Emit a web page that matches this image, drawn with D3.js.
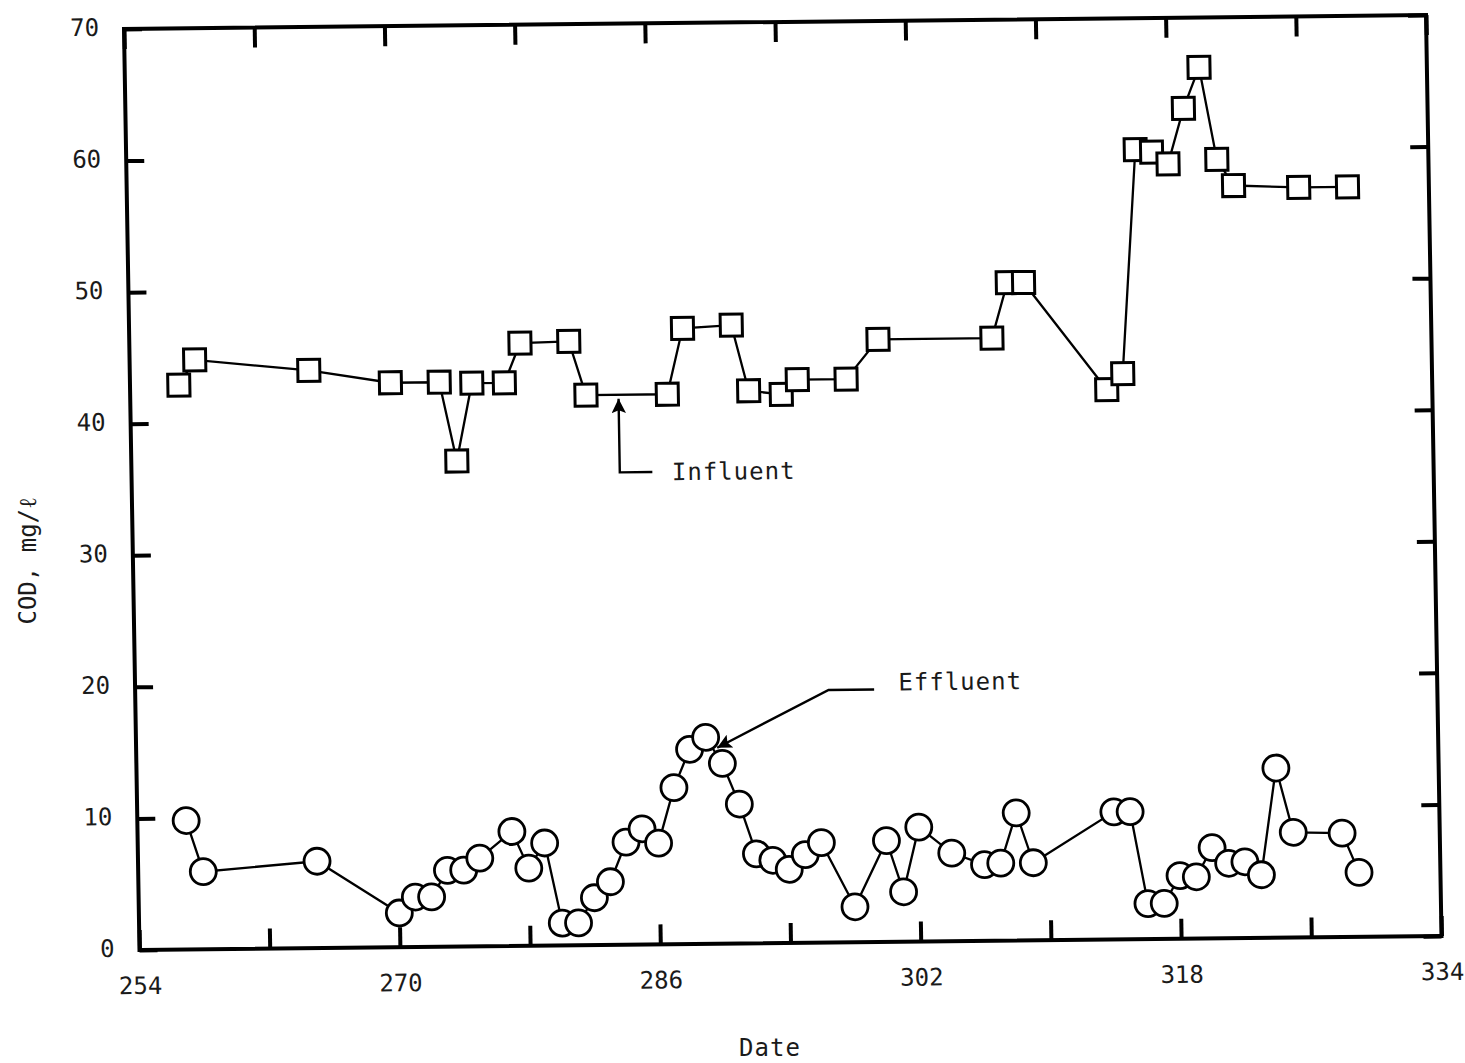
<!DOCTYPE html>
<html>
<head>
<meta charset="utf-8">
<script src="https://cdn.jsdelivr.net/npm/d3@7"></script>
<style>
  body { margin: 0; background: #fff; }
  svg text { font-family: "DejaVu Sans Mono", monospace; fill: #1a1a1a; }
  .frame { fill: none; stroke: #000; stroke-width: 4; }
  .axis line { stroke: #000; stroke-width: 4; }
  .axis text { font-size: 24px; }
  .series-line { fill: none; stroke: #000; stroke-width: 2.3; }
  .sq { fill: #fff; stroke: #000; stroke-width: 3; }
  .dot { fill: #fff; stroke: #000; stroke-width: 2.8; }
  .note-line { fill: none; stroke: #000; stroke-width: 2.4; }
  .note { font-size: 24px; letter-spacing: 1px; }
</style>
</head>
<body>
<svg id="chart"></svg>
<script>
// day of year and COD (mg/l)
const influentDays = [257, 258, 265, 270, 273, 274, 275, 277, 278, 281, 282, 287, 288, 291, 292, 294, 295,
    298, 300, 307, 308, 309, 314, 315, 316, 317, 318, 319, 320, 321, 322, 326, 329];
const influentCOD = [42.9, 44.8, 43.9, 42.9, 42.9, 36.9, 42.8, 42.8, 45.8, 45.9, 41.8, 41.8, 46.8, 47.0, 42.0, 41.7, 42.8,
    42.8, 45.8, 45.8, 50.0, 50.0, 41.8, 43.0, 60.0, 59.8, 58.9, 63.1, 66.2, 59.2, 57.2, 57.0, 57.0];

const effluentDays = [257, 258, 265, 270, 271, 272, 273, 274, 275, 277, 278, 279, 280, 281, 282, 283, 284, 285,
    286, 287, 288, 289, 290, 291, 292, 293, 294, 295, 296, 298, 300, 301, 302, 304, 306, 307, 308, 309,
    314, 315, 316, 317, 318, 319, 320, 321, 322, 323, 324, 325, 328, 329];
const effluentCOD = [9.8, 5.9, 6.6, 2.6, 3.8, 3.8, 5.8, 5.8, 6.7, 8.7, 5.9, 7.8, 1.7, 1.7, 3.6, 4.8, 7.8, 8.8,
    7.7, 11.9, 14.8, 15.7, 13.7, 10.6, 6.8, 6.3, 5.6, 6.7, 7.6, 2.7, 7.7, 3.8, 8.7, 6.7, 5.8, 5.9, 9.7, 5.9,
    9.7, 9.7, 2.7, 2.7, 4.8, 4.7, 6.9, 5.7, 5.8, 4.8, 12.9, 8.0, 7.9, 4.9];

const xTicks = d3.range(254, 335, 8);        // tick every 8 days
const xLabels = d3.range(254, 335, 16);      // labelled every 16
const yTicks = d3.range(0, 71, 10);

// annotation anchors in data units: [day, COD]
const influentArrow = [[286.0, 35.9], [284.0, 35.9], [284.0, 41.5]];
const influentText = [287.2, 35.9, 'Influent'];
const effluentArrow = [[299.4, 19.2], [296.6, 19.2], [289.7, 14.9]];
const effluentText = [300.9, 19.1, 'Effluent'];

class CodChart {
    constructor(_config) {
        this.config = {
            parentElement: _config.parentElement,
            containerWidth: 1465,
            containerHeight: 1063,
            // scanned page is slightly skewed; plot area is mapped with a small shear
            plotTransform: 'matrix(1,-0.01075,0.01683,1,124,29)',
            width: 1302,
            height: 921
        };
        this.initVis();
    }

    initVis() {
        let vis = this;
        const W = vis.config.width, H = vis.config.height;

        vis.svg = d3.select(vis.config.parentElement)
            .attr('width', vis.config.containerWidth)
            .attr('height', vis.config.containerHeight);

        vis.chart = vis.svg.append('g')
            .attr('transform', vis.config.plotTransform);

        vis.xScale = d3.scaleLinear().domain([254, 334]).range([0, W]);
        vis.yScale = d3.scaleLinear().domain([0, 70]).range([H, 0]);

        const xFmt = d => xLabels.includes(d) ? d : '';

        vis.chart.append('g')
            .attr('class', 'axis')
            .attr('transform', `translate(0,${H})`)
            .call(d3.axisBottom(vis.xScale).tickValues(xTicks).tickSize(-20).tickPadding(27).tickFormat(xFmt))
            .call(g => g.select('.domain').remove());

        vis.chart.append('g')
            .attr('class', 'axis')
            .call(d3.axisTop(vis.xScale).tickValues(xTicks).tickSize(-20).tickFormat(''))
            .call(g => g.select('.domain').remove());

        vis.chart.append('g')
            .attr('class', 'axis')
            .call(d3.axisLeft(vis.yScale).tickValues(yTicks).tickSize(-18).tickPadding(25))
            .call(g => g.select('.domain').remove())
            .call(g => g.selectAll('text').attr('dy', '0.25em'));

        vis.chart.append('g')
            .attr('class', 'axis')
            .attr('transform', `translate(${W},0)`)
            .call(d3.axisRight(vis.yScale).tickValues(yTicks).tickSize(-18).tickFormat(''))
            .call(g => g.select('.domain').remove());

        vis.chart.append('rect')
            .attr('class', 'frame')
            .attr('width', W)
            .attr('height', H);

        vis.svg.append('defs').append('marker')
            .attr('id', 'head')
            .attr('viewBox', '0 0 10 10')
            .attr('refX', 10).attr('refY', 5)
            .attr('markerWidth', 8).attr('markerHeight', 6)
            .attr('markerUnits', 'strokeWidth')
            .attr('orient', 'auto')
            .append('path')
            .attr('d', 'M0,0L10,5L0,10L2,5Z')
            .attr('fill', '#000');

        // axis titles
        vis.svg.append('text')
            .attr('x', 770).attr('y', 1056)
            .attr('text-anchor', 'middle')
            .style('font-size', '24px')
            .style('letter-spacing', '1px')
            .text('Date');

        vis.svg.append('text')
            .attr('transform', 'translate(36,561) rotate(-90)')
            .attr('text-anchor', 'middle')
            .style('font-size', '24px')
            .text('COD, mg/ℓ');

        vis.updateVis();
    }

    updateVis() {
        let vis = this;
        vis.influent = influentDays.map((d, i) => ({ day: d, cod: influentCOD[i] }));
        vis.effluent = effluentDays.map((d, i) => ({ day: d, cod: effluentCOD[i] }));

        vis.line = d3.line()
            .x(d => vis.xScale(d.day))
            .y(d => vis.yScale(d.cod));

        vis.renderVis();
    }

    renderVis() {
        let vis = this;

        vis.chart.selectAll('.series-line')
            .data([vis.influent, vis.effluent])
            .join('path')
            .attr('class', 'series-line')
            .attr('d', vis.line);

        vis.chart.selectAll('.sq')
            .data(vis.influent)
            .join('rect')
            .attr('class', 'sq')
            .attr('x', d => vis.xScale(d.day) - 11)
            .attr('y', d => vis.yScale(d.cod) - 11)
            .attr('width', 22)
            .attr('height', 22);

        vis.chart.selectAll('.dot')
            .data(vis.effluent)
            .join('circle')
            .attr('class', 'dot')
            .attr('cx', d => vis.xScale(d.day))
            .attr('cy', d => vis.yScale(d.cod))
            .attr('r', 13);

        // callouts
        const pt = d3.line().x(d => vis.xScale(d[0])).y(d => vis.yScale(d[1]));
        [influentArrow, effluentArrow].forEach(a => {
            vis.chart.append('path')
                .attr('class', 'note-line')
                .attr('d', pt(a))
                .attr('marker-end', 'url(#head)');
        });

        vis.chart.append('text')
            .attr('class', 'note')
            .attr('x', vis.xScale(influentText[0]))
            .attr('y', vis.yScale(influentText[1]))
            .attr('dy', '0.35em')
            .text(influentText[2]);

        vis.chart.append('text')
            .attr('class', 'note')
            .attr('x', vis.xScale(effluentText[0]))
            .attr('y', vis.yScale(effluentText[1]))
            .text(effluentText[2]);
    }
}

new CodChart({ parentElement: '#chart' });
</script>
</body>
</html>
